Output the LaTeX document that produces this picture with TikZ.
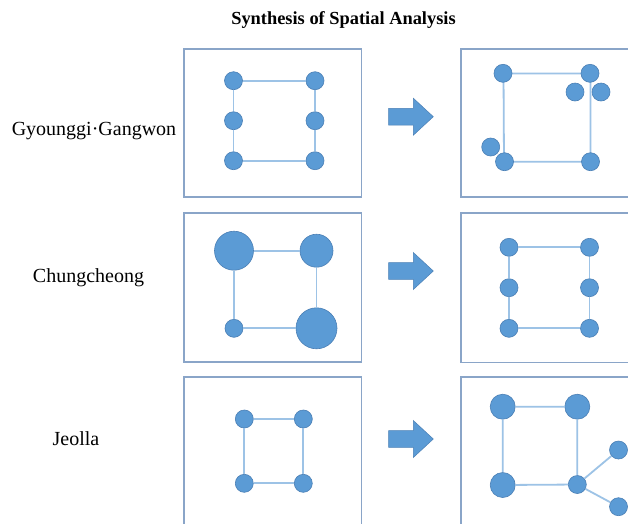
\documentclass[tikz,border=0pt]{standalone}
\usepackage{fontspec}
\setmainfont{Liberation Serif}
\begin{document}
\begin{tikzpicture}[x=1pt,y=-1pt,
  panel/.style={draw=panelc, line width=1.7pt},
  bnode/.style={circle, fill=nodefill, draw=nodeedge, line width=0.6pt, inner sep=0pt, minimum size=#1},
  bnode/.default=18pt,
  link/.style={draw=linkc, line width=1.8pt},
  bigarrow/.style={fill=nodefill, draw=nodeedge, line width=0.5pt},
  lbl/.style={font=\fontsize{20}{24}\selectfont, anchor=center},
]
\definecolor{nodefill}{HTML}{5B9BD5}
\definecolor{nodeedge}{HTML}{4A7FB5}
\definecolor{linkc}{HTML}{9DC3E6}
\definecolor{panelc}{HTML}{8AA5C8}
\useasboundingbox (0,0) rectangle (628,523);
\clip (0,0) rectangle (628,523);
\fill[white] (0,0) rectangle (628,523);

% title
\node[font=\fontsize{18.4}{22}\selectfont\bfseries] (title) at (343.5,20.5) {Synthesis of Spatial Analysis};

% row labels
\node[lbl] (l1) at (94,131.5) {Gyounggi·Gangwon};
\node[lbl] (l2) at (88.5,278) {Chungcheong};
\node[lbl] (l3) at (76,439) {Jeolla};

% panels
\draw[panel] (184,49.3) rectangle (361.5,197.3);
\draw[panel] (460.7,49.3) rectangle (640,197.3);
\draw[panel] (184,212.7) rectangle (361.5,362);
\draw[panel] (460.7,212.7) rectangle (640,362.5);
\draw[panel] (184,376.7) rectangle (361.5,540);
\draw[panel] (460.7,376.7) rectangle (640,540);

% arrows
\foreach \cy in {116.7,271,439}{
  \draw[bigarrow] (388.5,\cy-8.4) -- (413.3,\cy-8.4) -- (413.3,\cy-18.5) -- (433.3,\cy)
    -- (413.3,\cy+18.5) -- (413.3,\cy+8.4) -- (388.5,\cy+8.4) -- cycle;
}

% ---------- row 1 left ----------
\node[bnode] (a1) at (233.5,80.7) {};
\node[bnode] (a2) at (233.5,120.7) {};
\node[bnode] (a3) at (233.5,160.7) {};
\node[bnode] (a4) at (315,80.7) {};
\node[bnode] (a5) at (315,120.7) {};
\node[bnode] (a6) at (315,160.7) {};
\path[link] (a1) -- (a2) (a2) -- (a3) (a3) -- (a6) (a6) -- (a5) (a5) -- (a4) (a4) -- (a1);

% ---------- row 1 right ----------
\coordinate (bc1) at (503.5,73.5);
\coordinate (bc2) at (590.5,73.5);
\coordinate (bc3) at (590.5,161.7);
\coordinate (bc4) at (504,161.7);
\path[link] (bc1) -- (bc2) -- (bc3) -- (bc4) -- cycle;
\node[bnode] (b1) at (503,73.3) {};
\node[bnode] (b2) at (590,73.3) {};
\node[bnode] (b3) at (575,92) {};
\node[bnode] (b4) at (601,92) {};
\node[bnode] (b5) at (490.7,147) {};
\node[bnode] (b6) at (504.5,161.7) {};
\node[bnode] (b7) at (590.5,161.7) {};

% ---------- row 2 left ----------
\node[bnode=39pt] (c1) at (234,250.7) {};
\node[bnode=33pt] (c2) at (316.5,250.7) {};
\node[bnode=18pt] (c3) at (234,328.3) {};
\node[bnode=41pt] (c4) at (316.5,328.3) {};
\path[link] (c1) -- (c2) (c2) -- (c4) (c4) -- (c3) (c3) -- (c1);

% ---------- row 2 right ----------
\node[bnode] (d1) at (509,247.3) {};
\node[bnode] (d2) at (509,287.7) {};
\node[bnode] (d3) at (509,328.3) {};
\node[bnode] (d4) at (589.5,247.3) {};
\node[bnode] (d5) at (589.5,287.7) {};
\node[bnode] (d6) at (589.5,328.3) {};
\path[link] (d1) -- (d2) (d2) -- (d3) (d3) -- (d6) (d6) -- (d5) (d5) -- (d4) (d4) -- (d1);

% ---------- row 3 left ----------
\node[bnode] (e1) at (244.3,419) {};
\node[bnode] (e2) at (303.3,419) {};
\node[bnode] (e3) at (244.3,483.3) {};
\node[bnode] (e4) at (303.3,483.3) {};
\path[link] (e1) -- (e2) (e2) -- (e4) (e4) -- (e3) (e3) -- (e1);

% ---------- row 3 right ----------
\node[bnode=25pt] (f1) at (502.7,406.7) {};
\node[bnode=25pt] (f2) at (577.3,406.7) {};
\node[bnode=25pt] (f3) at (502.7,485) {};
\node[bnode] (f4) at (577.3,484.5) {};
\node[bnode] (f5) at (618.5,450) {};
\node[bnode] (f6) at (618.5,506.7) {};
\path[link] (f1) -- (f2) (f2) -- (f4) (f4) -- (f3) (f3) -- (f1) (f4) -- (f5) (f4) -- (f6);
\end{tikzpicture}
\end{document}
